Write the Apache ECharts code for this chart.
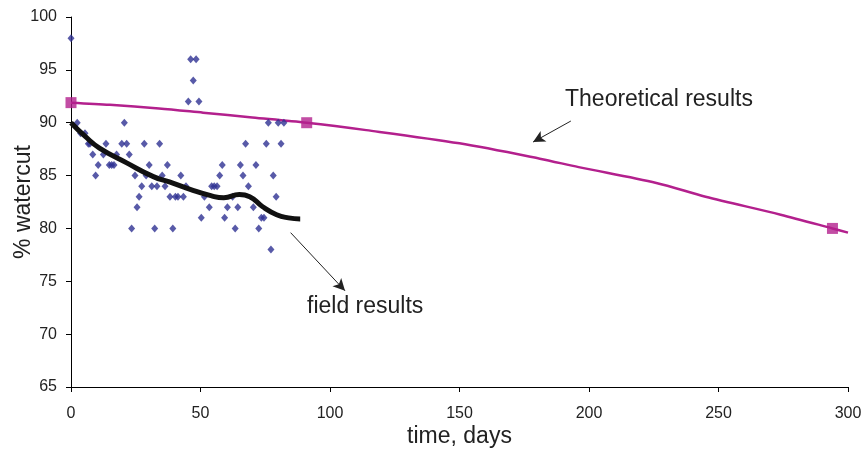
<!DOCTYPE html>
<html>
<head>
<meta charset="utf-8">
<script src="https://cdn.jsdelivr.net/npm/echarts@6/dist/echarts.min.js"></script>
<style>
  html, body { margin: 0; padding: 0; background: #fff; }
  #main { width: 864px; height: 449px; }
</style>
</head>
<body>
<div id="main"></div>
<script>
// field measurements: [day, % watercut]
var fieldPoints = [
    [0, 98], [2.4, 90], [3.7, 89], [5.4, 89], [6.7, 88], [7.3, 88], [8.4, 87],
    [9.5, 85], [10.5, 86], [12.5, 87], [13.5, 88], [14.8, 86], [15.7, 86], [16.6, 86],
    [17.6, 87], [19.6, 88], [20.6, 90], [21.5, 88], [22.5, 87], [23.4, 80], [24.7, 85],
    [25.5, 82], [26.3, 83], [27.3, 84], [28.3, 88], [29, 85], [30.2, 86], [31.2, 84],
    [32.3, 80], [33.2, 84], [34.2, 88], [35.2, 85], [36.3, 84], [37.2, 86], [38.2, 83],
    [39.3, 80], [40.3, 83], [41.3, 83], [42.4, 85], [43.4, 83], [44.4, 84], [45.3, 92],
    [46.2, 96], [47.2, 94], [48.3, 96], [49.4, 92], [50.3, 81], [51.5, 83], [53.4, 82],
    [54.3, 84], [55.3, 84], [56.4, 84], [57.4, 85], [58.4, 86], [59.3, 81], [60.4, 82],
    [62.4, 83], [63.4, 80], [64.4, 82], [65.4, 86], [66.4, 85], [67.4, 88], [68.5, 84],
    [70.4, 82], [71.4, 86], [72.5, 80], [73.5, 81], [74.5, 81], [75.4, 88], [76.2, 90],
    [77.2, 78], [78.1, 85], [79.2, 83], [80, 90], [81.1, 88], [82.2, 90]
];

// trend through field results
var fieldFit = [
    [0, 90], [5.5, 88.7], [11, 87.6], [21.5, 86.2], [31.8, 84.9], [38, 84.4],
    [46, 83.7], [54, 83.1], [59, 82.9], [65, 83.2], [69, 83], [74, 82.05],
    [79.4, 81.3], [84, 81], [88.5, 80.9]
];

// theoretical curve
var theoryLine = [
    [0, 91.9], [15, 91.7], [34, 91.35], [51, 90.95], [70, 90.5], [91, 90],
    [114, 89.3], [150, 88.05], [181, 86.6], [196, 85.8], [226, 84.3], [245, 83],
    [274, 81.3], [294, 80], [300, 79.6]
];
var theoryMarks = [[0, 91.9], [91, 90], [294, 80]];

// annotation arrows, [from, to]
var theoryArrow = [[193, 90.16], [178.4, 88.17]];
var fieldArrow = [[84.8, 79.6], [105.8, 74.1]];

var xTicks = { min: 0, max: 300, step: 50 };
var yTicks = { min: 65, max: 100, step: 5 };

var FONT = 'Liberation Sans, Arial, sans-serif';
var PINK = '#b3208d';
var BLUE = '#2e3192';

function arrowLine(pair) {
    return [
        { coord: pair[0], symbol: 'none' },
        { coord: pair[1], symbol: 'arrow', symbolSize: [9, 12] }
    ];
}

var chart = echarts.init(document.getElementById('main'));

chart.setOption({
    animation: false,
    backgroundColor: '#fff',
    grid: { left: 71, right: 16, top: 17, bottom: 62, outerBoundsMode: 'none' },
    xAxis: {
        type: 'value',
        min: xTicks.min, max: xTicks.max, interval: xTicks.step,
        name: 'time, days',
        nameLocation: 'middle',
        nameGap: 38,
        nameMoveOverlap: false,
        nameTextStyle: { fontFamily: FONT, fontSize: 23, color: '#222' },
        axisLine: { show: true, onZero: false, lineStyle: { color: '#000', width: 1 } },
        axisTick: { show: true, length: 5, lineStyle: { color: '#000' } },
        axisLabel: { fontFamily: FONT, fontSize: 16, color: '#222', margin: 19 },
        splitLine: { show: false }
    },
    yAxis: {
        type: 'value',
        min: yTicks.min, max: yTicks.max, interval: yTicks.step,
        name: '% watercut',
        nameLocation: 'middle',
        nameGap: 36,
        nameMoveOverlap: false,
        nameRotate: 90,
        nameTextStyle: { fontFamily: FONT, fontSize: 23, color: '#222' },
        axisLine: { show: true, onZero: false, lineStyle: { color: '#000', width: 1 } },
        axisTick: { show: true, length: 5, lineStyle: { color: '#000' } },
        axisLabel: { fontFamily: FONT, fontSize: 16, color: '#222', margin: 14 },
        splitLine: { show: false }
    },
    series: [
        {
            type: 'line',
            data: theoryLine,
            smooth: 0.3,
            showSymbol: false,
            lineStyle: { color: PINK, width: 2.5 },
            z: 2,
            markLine: {
                silent: true,
                label: { show: false },
                lineStyle: { color: '#222', width: 1, type: 'solid' },
                data: [arrowLine(theoryArrow), arrowLine(fieldArrow)]
            }
        },
        {
            type: 'scatter',
            data: theoryMarks,
            symbol: 'rect',
            symbolSize: 11,
            itemStyle: { color: PINK },
            z: 4
        },
        {
            type: 'scatter',
            data: fieldPoints,
            symbol: 'diamond',
            symbolSize: [7, 8],
            itemStyle: { color: BLUE },
            z: 3
        },
        {
            type: 'line',
            data: fieldFit,
            smooth: true,
            showSymbol: false,
            lineStyle: { color: '#111', width: 5 },
            z: 5
        }
    ],
    graphic: [
        {
            type: 'text', left: 565, top: 88,
            style: { text: 'Theoretical results', fontFamily: FONT, fontSize: 23, fill: '#222' }
        },
        {
            type: 'text', left: 307, top: 295,
            style: { text: 'field results', fontFamily: FONT, fontSize: 23, fill: '#222' }
        }
    ]
});
</script>
</body>
</html>
